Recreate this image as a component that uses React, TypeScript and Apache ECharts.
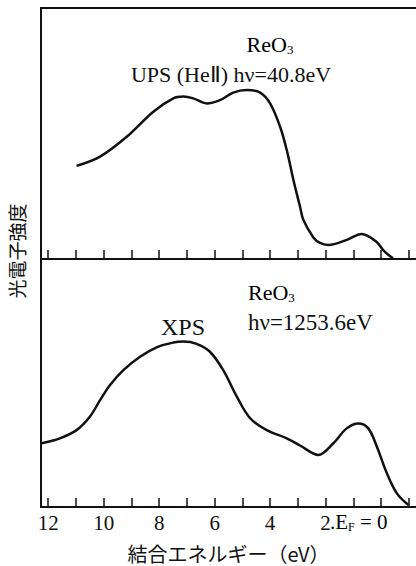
import React, { useEffect, useRef } from 'react';
import * as echarts from 'echarts';

// Binding energy (eV) vs intensity (arbitrary units, 0-100 within each panel)
const upsData: [number, number][] = [
  [10.98, 37.1], [10.13, 40.8], [9.17, 48.7], [8.21, 58.7], [7.49, 64.0], [7.13, 64.7],
  [6.77, 64.0], [6.29, 62.0], [5.81, 63.3], [5.33, 66.3], [4.84, 67.3], [4.36, 66.3],
  [4.0, 62.0], [3.64, 52.7], [3.4, 43.4], [3.16, 31.5], [2.92, 20.8], [2.8, 15.5],
  [2.44, 8.6], [2.2, 6.4], [1.9, 5.6], [1.24, 7.6], [0.7, 10.0], [0.17, 6.9],
  [-0.13, 2.9], [-0.43, 0.3],
];

const xpsData: [number, number][] = [
  [12.24, 25.7], [11.58, 27.7], [10.98, 31.0], [10.5, 36.4], [10.13, 43.1], [9.77, 49.2],
  [9.29, 55.2], [8.69, 60.6], [8.09, 64.4], [7.49, 66.3], [7.13, 66.7], [6.65, 65.8],
  [6.17, 62.6], [5.69, 55.2], [5.2, 44.5], [4.72, 35.8], [4.12, 31.0], [3.4, 27.7],
  [2.92, 24.8], [2.26, 21.0], [1.72, 25.7], [1.24, 31.7], [0.82, 33.7], [0.46, 31.7],
  [0.15, 24.3], [-0.21, 13.6], [-0.57, 5.5], [-0.99, 0.8],
];

const tickValues = [-1, 0, 1, 2, 3, 4, 5, 6, 7, 8, 9, 10, 11, 12];
const labelValues = [12, 10, 8, 6, 4, 2];

const X_MIN = -1.26;
const X_MAX = 12.26;

export default function App() {
  const ref = useRef<HTMLDivElement>(null);
  useEffect(() => {
    document.body.style.margin = '0';
    const chart = echarts.init(ref.current!, null, { renderer: 'svg' });
    const serif = 'Liberation Serif';
    const cjk = 'Noto Sans CJK JP';
    const ink = '#111';
    const axisLineStyle = { color: ink, width: 2 };

    const makeX = (gridIndex: number, showLabels: boolean, position: string, ticks: boolean) => ({
      type: 'value',
      gridIndex,
      min: X_MIN,
      max: X_MAX,
      inverse: true,
      position,
      axisLine: { show: true, onZero: false, lineStyle: axisLineStyle },
      axisTick: {
        show: ticks,
        inside: true,
        length: 9,
        customValues: tickValues,
        lineStyle: { color: ink, width: 1.5 },
      },
      axisLabel: {
        show: showLabels,
        customValues: labelValues,
        margin: 5,
        fontFamily: serif,
        fontSize: 21,
        color: ink,
      },
      splitLine: { show: false },
      ...(showLabels
        ? {
            name: '結合エネルギー（eV）',
            nameLocation: 'middle',
            nameGap: 36,
            nameTextStyle: { fontFamily: cjk, fontSize: 20, color: ink },
          }
        : {}),
    });

    const makeY = (gridIndex: number) => ({
      type: 'value',
      gridIndex,
      min: 0,
      max: 100,
      axisLine: { show: true, onZero: false, lineStyle: axisLineStyle },
      axisTick: { show: false },
      axisLabel: { show: false },
      splitLine: { show: false },
    });

    const subRich = {
      n: { fontFamily: serif, fontSize: 22, color: ink, lineHeight: 24 },
      s: { fontFamily: serif, fontSize: 13, color: ink, verticalAlign: 'bottom', lineHeight: 24 },
    };

    const option = {
      animation: false,
      textStyle: { fontFamily: serif },
      grid: [
        { left: 41, top: 8, right: 0, height: 251 },
        { left: 41, top: 259, right: 0, height: 248 },
      ],
      xAxis: [
        makeX(0, false, 'bottom', true),
        makeX(1, true, 'bottom', true),
        makeX(0, false, 'top', false),
      ],
      yAxis: [makeY(0), makeY(1)],
      series: [
        {
          type: 'line',
          xAxisIndex: 0,
          yAxisIndex: 0,
          data: upsData,
          showSymbol: false,
          smooth: 0.35,
          lineStyle: { color: ink, width: 2.5 },
        },
        {
          type: 'line',
          xAxisIndex: 1,
          yAxisIndex: 1,
          data: xpsData,
          showSymbol: false,
          smooth: 0.35,
          lineStyle: { color: ink, width: 2.5 },
        },
      ],
      graphic: [
        {
          type: 'text', x: 270, y: 44,
          style: { text: '{n|ReO}{s|3}', rich: subRich, align: 'center', verticalAlign: 'middle' },
        },
        {
          type: 'text', x: 231, y: 74,
          style: {
            text: 'UPS (HeⅡ) hν=40.8eV', fontFamily: serif, fontSize: 22, fill: ink,
            align: 'center', verticalAlign: 'middle',
          },
        },
        {
          type: 'text', x: 248, y: 292,
          style: { text: '{n|ReO}{s|3}', rich: subRich, align: 'left', verticalAlign: 'middle' },
        },
        {
          type: 'text', x: 248, y: 322,
          style: {
            text: 'hν=1253.6eV', fontFamily: serif, fontSize: 23, fill: ink,
            align: 'left', verticalAlign: 'middle',
          },
        },
        {
          type: 'text', x: 183, y: 327,
          style: {
            text: 'XPS', fontFamily: serif, fontSize: 24, fill: ink,
            align: 'center', verticalAlign: 'middle',
          },
        },
        {
          type: 'text', x: 330, y: 522,
          style: {
            text: '{n|.E}{s|F}{n| = 0}',
            rich: {
              n: { fontFamily: serif, fontSize: 21, color: ink, lineHeight: 22 },
              s: { fontFamily: serif, fontSize: 12, color: ink, verticalAlign: 'bottom', lineHeight: 22 },
            },
            align: 'left', verticalAlign: 'middle',
          },
        },
        {
          type: 'text', x: 16, y: 251, rotation: Math.PI / 2,
          style: {
            text: '光電子強度', fontFamily: cjk, fontSize: 19, fill: ink,
            align: 'center', verticalAlign: 'middle',
          },
        },
      ],
    };
    chart.setOption(option as any);
    let alive = true;
    const fonts = (document as any).fonts;
    if (fonts && fonts.load) {
      fonts
        .load('22px "Liberation Serif"')
        .then(() => {
          if (alive) chart.setOption(option as any, true);
        })
        .catch(() => {});
    }
    return () => {
      alive = false;
      chart.dispose();
    };
  }, []);
  return (
    <div
      ref={ref}
      style={{ width: 416, height: 566, background: '#fff', fontFamily: 'Liberation Serif' }}
    />
  );
}
